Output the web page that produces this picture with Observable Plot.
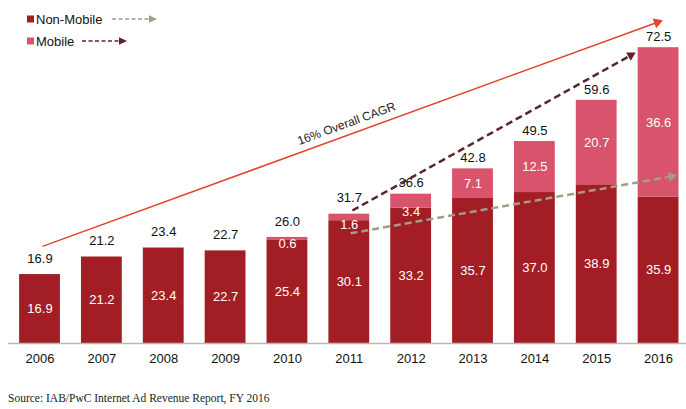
<!DOCTYPE html>
<html>
<head>
<meta charset="utf-8">
<script src="https://cdn.jsdelivr.net/npm/d3@7"></script>
<script src="https://cdn.jsdelivr.net/npm/@observablehq/plot@0.6"></script>
<style>
  body { margin: 0; background: #fff; font-family: "Liberation Sans", Arial, sans-serif; }
  #wrap { position: relative; width: 686px; height: 409px; overflow: hidden; }
  #legend { position: absolute; left: 0; top: 0; }
  #source { position: absolute; left: 8px; top: 392px; font-family: "Liberation Serif", Georgia, serif;
            font-size: 11.5px; color: #222; white-space: nowrap; }
</style>
</head>
<body>
<div id="wrap">
  <div id="chart"></div>
  <svg id="legend" width="200" height="60"></svg>
  <div id="source">Source: IAB/PwC Internet Ad Revenue Report, FY 2016</div>
</div>
<script>
// US internet ad revenue, $ billions
const years     = [2006, 2007, 2008, 2009, 2010, 2011, 2012, 2013, 2014, 2015, 2016];
const nonMobile = [16.9, 21.2, 23.4, 22.7, 25.4, 30.1, 33.2, 35.7, 37.0, 38.9, 35.9];
const mobile    = [0, 0, 0, 0, 0.6, 1.6, 3.4, 7.1, 12.5, 20.7, 36.6];
const totals    = [16.9, 21.2, 23.4, 22.7, 26.0, 31.7, 36.6, 42.8, 49.5, 59.6, 72.5];

const seriesNames = ["Non-Mobile", "Mobile"];
const cagrLabel = "16% Overall CAGR";

// trend arrows (start and tip in year / $B units)
const trendArrows = [
  {name: "Overall",    x1: 2006.04, y1: 23.8, x2: 2016.07, y2: 79.2},
  {name: "Mobile",     x1: 2011.05, y1: 32.6, x2: 2015.63, y2: 71.3},
  {name: "Non-Mobile", x1: 2011.02, y1: 27.0, x2: 2016.30, y2: 41.2}
];

const DARK = "#A31E24", PINK = "#D8546C";
const arrowStyle = {
  "Overall":    {stroke: "#E2452F", width: 1.5, dash: null,  r: 5},
  "Mobile":     {stroke: "#5B2529", width: 2.5, dash: "7,4", r: 4.6},
  "Non-Mobile": {stroke: "#A29D86", width: 2.5, dash: "7,4", r: 4.6}
};

const rows = years.map((year, i) => ({
  year, nonMobile: nonMobile[i], mobile: mobile[i], total: totals[i]
}));

const xOpts = {type: "linear", domain: [2005.5, 2016.5], range: [8.6, 689]};
const yOpts = {type: "linear", domain: [0, 80], range: [343, 16.6]};
const xs = Plot.scale({x: xOpts});
const ys = Plot.scale({y: yOpts});
const half = 0.33;

// arrow marks: a (dashed) shaft plus a filled triangular head
const arrowMarks = trendArrows.flatMap(a => {
  const s = arrowStyle[a.name];
  const px1 = xs.apply(a.x1), py1 = ys.apply(a.y1);
  const px2 = xs.apply(a.x2), py2 = ys.apply(a.y2);
  const ang = Math.atan2(py2 - py1, px2 - px1);
  const c = Math.cos(ang), sn = Math.sin(ang);
  const tipToCenter = s.r * 1.2;
  const shaftEnd = {x: xs.invert(px2 - c * s.r * 1.4), y: ys.invert(py2 - sn * s.r * 1.4)};
  return [
    Plot.link([a], {
      x1: "x1", y1: "y1", x2: () => shaftEnd.x, y2: () => shaftEnd.y,
      stroke: s.stroke, strokeWidth: s.width, strokeDasharray: s.dash
    }),
    Plot.dot([a], {
      x: "x2", y: "y2", dx: -c * tipToCenter, dy: -sn * tipToCenter,
      symbol: "triangle2", r: s.r, fill: s.stroke, stroke: "none",
      rotate: ang * 180 / Math.PI + 90
    })
  ];
});

// overall CAGR label sits above the middle of the red arrow
const ov = trendArrows[0];
const ovAngle = Math.atan2(ys.apply(ov.y2) - ys.apply(ov.y1), xs.apply(ov.x2) - xs.apply(ov.x1)) * 180 / Math.PI;
const t = 0.49;
const cagrPos = [{x: ov.x1 + t * (ov.x2 - ov.x1), y: ov.y1 + t * (ov.y2 - ov.y1)}];

const chart = Plot.plot({
  width: 686,
  height: 378,
  marginLeft: 8,
  marginRight: 0,
  marginTop: 0,
  marginBottom: 35,
  x: xOpts,
  y: {...yOpts, axis: null},
  style: {fontFamily: "Liberation Sans, Arial, sans-serif", fontSize: "13px", color: "#111", background: "transparent"},
  marks: [
    Plot.rectY(rows, {x1: d => d.year - half, x2: d => d.year + half, y1: 0, y2: "nonMobile", fill: DARK}),
    Plot.rectY(rows.filter(d => d.mobile > 0), {x1: d => d.year - half, x2: d => d.year + half, y1: "nonMobile", y2: "total", fill: PINK}),
    Plot.ruleY([0], {stroke: "#BDB8AE", strokeWidth: 1.5}),
    Plot.axisX({ticks: years, tickFormat: d => String(d), tickSize: 0, tickPadding: 10, fontSize: 13, label: null}),
    // segment values
    Plot.text(rows, {x: "year", y: d => d.nonMobile / 2, text: d => d.nonMobile.toFixed(1), fill: "#fff", fontSize: 13}),
    Plot.text(rows.filter(d => d.mobile >= 5), {x: "year", y: d => d.nonMobile + d.mobile / 2, text: d => d.mobile.toFixed(1), fill: "#fff", fontSize: 13}),
    Plot.text(rows.filter(d => d.mobile > 0 && d.mobile < 5), {x: "year", y: "nonMobile", dy: 4, text: d => d.mobile.toFixed(1), fill: "#fff", fontSize: 13}),
    // totals
    Plot.text(rows.filter(d => d.year <= 2011), {x: "year", y: "total", dy: -16, text: d => d.total.toFixed(1), fill: "#111", fontSize: 13}),
    Plot.text(rows.filter(d => d.year > 2011), {x: "year", y: "total", dy: -11, text: d => d.total.toFixed(1), fill: "#111", fontSize: 13}),
    ...arrowMarks,
    Plot.text(cagrPos, {x: "x", y: "y", dy: -12, rotate: ovAngle, text: () => cagrLabel, fill: "#222", fontSize: 12})
  ]
});
document.getElementById("chart").append(chart);

// legend: swatch, name and the matching trend arrow
const legend = d3.select("#legend");
const legendItems = [
  {name: seriesNames[0], fill: DARK, arrow: arrowStyle["Non-Mobile"].stroke, cy: 19, ax: 112},
  {name: seriesNames[1], fill: PINK, arrow: arrowStyle["Mobile"].stroke, cy: 41, ax: 82}
];
for (const it of legendItems) {
  legend.append("rect").attr("x", 27).attr("y", it.cy - 3.5).attr("width", 7).attr("height", 7).attr("fill", it.fill);
  legend.append("text").attr("x", 36).attr("y", it.cy).attr("dy", "0.35em")
    .attr("font-size", 13).attr("fill", "#111").attr("font-family", "Liberation Sans, Arial, sans-serif").text(it.name);
  legend.append("line").attr("x1", it.ax).attr("x2", it.ax + 38).attr("y1", it.cy).attr("y2", it.cy)
    .attr("stroke", it.arrow).attr("stroke-width", 1.4).attr("stroke-dasharray", "4,2.5");
  legend.append("path").attr("d", `M${it.ax + 45},${it.cy}L${it.ax + 37},${it.cy - 3.8}L${it.ax + 37},${it.cy + 3.8}Z`).attr("fill", it.arrow);
}
</script>
</body>
</html>
